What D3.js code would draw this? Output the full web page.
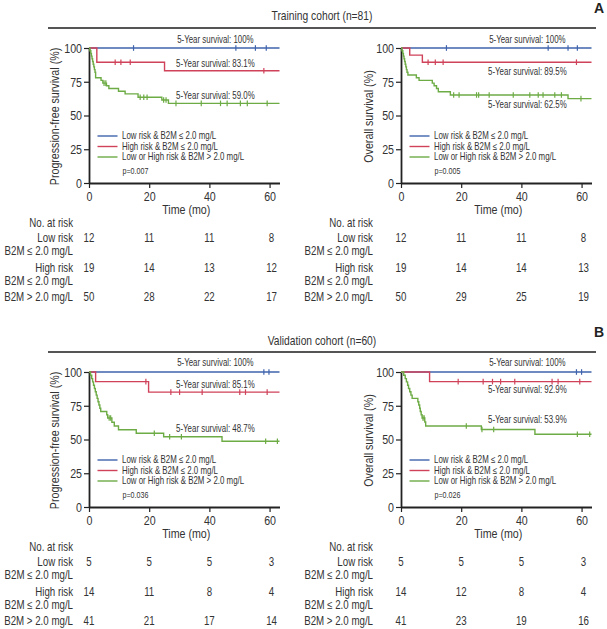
<!DOCTYPE html>
<html>
<head>
<meta charset="utf-8">
<script src="https://cdn.jsdelivr.net/npm/d3@7"></script>
<style>
  html, body { margin: 0; padding: 0; background: #fff; }
  svg { display: block; font-family: "Liberation Sans", Arial, sans-serif; }
</style>
</head>
<body>
<svg id="chart" width="607" height="629"></svg>
<script>
// ---------------- DATA ----------------
const timeTicks = [0, 20, 40, 60];
const survivalTicks = [0, 25, 50, 75, 100];
const timeMax = 63.3;

const cohortTitles = ["Training cohort (n=81)", "Validation cohort (n=60)"];
const cohortLetters = ["A", "B"];
const endpointLabels = ["Progression-free survival (%)", "Overall survival (%)"];
const timeLabel = "Time (mo)";
const groupNames = ["Low risk & B2M \u2264 2.0 mg/L", "High risk & B2M \u2264 2.0 mg/L", "Low or High risk & B2M > 2.0 mg/L"];
const groupColors = ["#3f63ad", "#cf4259", "#6dab45"];
const pValues = ["p=0.007", "p=0.005", "p=0.036", "p=0.026"];
const fiveYearLabels = [
  ["5-Year survival: 100%", "5-Year survival: 83.1%", "5-Year survival: 59.0%"],
  ["5-Year survival: 100%", "5-Year survival: 89.5%", "5-Year survival: 62.5%"],
  ["5-Year survival: 100%", "5-Year survival: 85.1%", "5-Year survival: 48.7%"],
  ["5-Year survival: 100%", "5-Year survival: 92.9%", "5-Year survival: 53.9%"]
];
const fiveYearValues = [[100, 83.1, 59.0], [100, 89.5, 62.5], [100, 85.1, 48.7], [100, 92.9, 53.9]];

// Step drops: [time (mo), survival (%) after drop]
const trainPfsLowSteps = [];
const trainPfsLowCensor = [14.8, 48.8, 55.3, 58.9];
const trainPfsHighSteps = [[2.6, 89.5], [25.1, 83.1]];
const trainPfsHighCensor = [8.7, 10.6, 13.7, 58.1];
const trainPfsB2mSteps = [[0.3, 98], [0.6, 96], [0.8, 94], [1.0, 92], [1.2, 90], [1.4, 88], [1.6, 86], [1.8, 84], [2.0, 82], [2.2, 78], [4.0, 76], [4.6, 74], [5.8, 72], [6.6, 70], [9.8, 68], [12.0, 66], [16.3, 63.5], [24.2, 61.5], [26.4, 59.0]];
const trainPfsB2mCensor = [5.0, 5.6, 17.0, 18.2, 19.3, 24.8, 25.6, 28.9, 37.3, 43.7, 45.9, 50.3, 52.6, 59.2];

const trainOsLowSteps = [];
const trainOsLowCensor = [15.1, 48.9, 55.5, 58.6];
const trainOsHighSteps = [[2.9, 94.7], [7.1, 89.5]];
const trainOsHighCensor = [9.0, 11.4, 14.0, 58.3];
const trainOsB2mSteps = [[0.3, 98], [0.6, 96], [0.8, 94], [1.0, 92], [1.2, 90], [1.4, 88], [1.6, 86], [1.8, 84], [2.0, 82], [2.3, 80], [5.1, 78], [6.0, 76], [10.4, 74], [11.0, 72], [11.8, 70], [12.4, 67.6], [16.4, 65.2], [55.5, 62.5]];
const trainOsB2mCensor = [17.5, 19.3, 25.1, 25.8, 29.3, 37.3, 42.8, 45.6, 47.2, 51.1, 53.3, 59.8];

const validPfsLowSteps = [];
const validPfsLowCensor = [58.1, 59.8];
const validPfsHighSteps = [[2.2, 92.9], [19.8, 85.1]];
const validPfsHighCensor = [18.9, 27.2, 30.1, 37.6, 50.1, 52.0, 59.2];
const validPfsB2mSteps = [[0.5, 97.6], [0.9, 95.1], [1.2, 92.7], [1.5, 90.2], [1.8, 87.8], [2.1, 85.4], [2.4, 82.9], [2.7, 80.5], [3.0, 78.0], [3.3, 75.6], [3.6, 73.2], [3.9, 70.7], [5.9, 68.3], [6.2, 65.9], [7.6, 62.8], [8.4, 60.0], [9.8, 57.2], [15.7, 54.6], [24.8, 52.0], [44.2, 48.7]];
const validPfsB2mCensor = [6.7, 7.2, 21.7, 26.8, 30.7, 58.7, 62.6];

const validOsLowSteps = [];
const validOsLowCensor = [58.3, 60.0];
const validOsHighSteps = [[9.5, 92.9]];
const validOsHighCensor = [19.0, 27.3, 30.4, 33.1, 37.8, 50.2, 52.2, 59.4];
const validOsB2mSteps = [[0.9, 97.6], [1.4, 95.1], [1.8, 92.7], [2.2, 90.2], [2.5, 87.8], [2.9, 85.4], [3.3, 82.9], [3.7, 80.5], [5.6, 78.0], [5.9, 75.6], [6.2, 73.2], [6.4, 70.7], [6.7, 68.3], [7.0, 65.9], [7.9, 63.0], [8.2, 60.0], [26.7, 57.4], [44.5, 53.9]];
const validOsB2mCensor = [7.3, 7.7, 21.7, 26.9, 30.8, 58.6, 62.7];

const riskRowLabels = ["No. at risk", "Low risk", "B2M \u2264 2.0 mg/L", "High risk", "B2M \u2264 2.0 mg/L", "B2M > 2.0 mg/L"];
const trainPfsAtRisk = [[12, 11, 11, 8], [19, 14, 13, 12], [50, 28, 22, 17]];
const trainOsAtRisk = [[12, 11, 11, 8], [19, 14, 14, 13], [50, 29, 25, 19]];
const validPfsAtRisk = [[5, 5, 5, 3], [14, 11, 8, 4], [41, 21, 17, 14]];
const validOsAtRisk = [[5, 5, 5, 3], [14, 12, 8, 4], [41, 23, 19, 16]];

// ---------------- LAYOUT ----------------
const colX = [[89, 279.5], [401, 591.5]];
const rowY = [[183, 48], [507, 372]];
const riskLabelRight = [73, 373];
const yLabelX = [54, 368];
const annotOffsets = [[-8, -7, -7.5], [-8, 9, 5.5], [-9, -8, -13], [-9, 8, -15]];
const condense = 0.79;

const panels = [
  { row: 0, col: 0, curves: [[trainPfsLowSteps, trainPfsLowCensor], [trainPfsHighSteps, trainPfsHighCensor], [trainPfsB2mSteps, trainPfsB2mCensor]], atRisk: trainPfsAtRisk },
  { row: 0, col: 1, curves: [[trainOsLowSteps, trainOsLowCensor], [trainOsHighSteps, trainOsHighCensor], [trainOsB2mSteps, trainOsB2mCensor]], atRisk: trainOsAtRisk },
  { row: 1, col: 0, curves: [[validPfsLowSteps, validPfsLowCensor], [validPfsHighSteps, validPfsHighCensor], [validPfsB2mSteps, validPfsB2mCensor]], atRisk: validPfsAtRisk },
  { row: 1, col: 1, curves: [[validOsLowSteps, validOsLowCensor], [validOsHighSteps, validOsHighCensor], [validOsB2mSteps, validOsB2mCensor]], atRisk: validOsAtRisk }
];

const svg = d3.select("#chart");
const textColor = "#333";

// Cohort headers
const headerY = [[20, 28, 13], [345.5, 352, 337]];
cohortTitles.forEach((t, i) => {
  svg.append("text").attr("x", 322).attr("y", headerY[i][0]).attr("text-anchor", "middle")
    .attr("font-size", 13).attr("fill", textColor).attr("class", "cond").text(t);
  svg.append("line").attr("x1", 48).attr("x2", 596).attr("y1", headerY[i][1]).attr("y2", headerY[i][1])
    .attr("stroke", "#555").attr("stroke-width", 2);
  svg.append("text").attr("x", 599).attr("y", headerY[i][2]).attr("text-anchor", "middle")
    .attr("font-size", 14).attr("font-weight", "bold").attr("fill", "#222").text(cohortLetters[i]);
});

panels.forEach((p, pi) => {
  const x = d3.scaleLinear().domain([0, timeMax]).range(colX[p.col]);
  const y = d3.scaleLinear().domain([0, 100]).range(rowY[p.row]);
  const g = svg.append("g");

  // axes
  const yAxis = g.append("g").attr("transform", `translate(${x(0)},0)`)
    .call(d3.axisLeft(y).tickValues(survivalTicks).tickSize(5).tickPadding(2).tickSizeOuter(0));
  const xAxis = g.append("g").attr("transform", `translate(0,${y(0)})`)
    .call(d3.axisBottom(x).tickValues(timeTicks).tickSize(5).tickPadding(3).tickSizeOuter(0));
  [xAxis, yAxis].forEach(a => {
    a.attr("font-family", null).attr("font-size", null);
    a.select(".domain").attr("stroke", "#222").attr("stroke-width", 1.8);
    a.selectAll(".tick line").attr("stroke", "#222").attr("stroke-width", 1.2);
    a.selectAll(".tick text").attr("font-size", 13.5).attr("fill", textColor).attr("class", "cond");
  });

  // y label
  g.append("text").attr("transform", `translate(${yLabelX[p.col]},${(y(0) + y(100)) / 2 + 1}) rotate(-90)`)
    .attr("text-anchor", "middle").attr("dy", "0.35em").attr("font-size", 13.5).attr("fill", textColor)
    .attr("class", "cond").text(endpointLabels[p.col]);
  // x label
  g.append("text").attr("x", (x(0) + x(timeMax)) / 2 + 2).attr("y", y(0) + 26).attr("dy", "0.35em")
    .attr("text-anchor", "middle").attr("font-size", 13.5).attr("fill", textColor).attr("class", "cond").text(timeLabel);

  // curves
  const line = d3.line().x(d => x(d[0])).y(d => y(d[1])).curve(d3.curveStepAfter);
  p.curves.forEach(([steps, censor], gi) => {
    const pts = [[0, 100]].concat(steps);
    const last = pts[pts.length - 1][1];
    pts.push([timeMax, last]);
    g.append("path").attr("d", line(pts)).attr("fill", "none")
      .attr("stroke", groupColors[gi]).attr("stroke-width", 1.4);
    const survAt = t => { let s = 100; steps.forEach(d => { if (d[0] <= t) s = d[1]; }); return s; };
    g.selectAll(null).data(censor).enter().append("line")
      .attr("x1", d => x(d)).attr("x2", d => x(d))
      .attr("y1", d => y(survAt(d)) - 2.8).attr("y2", d => y(survAt(d)) + 2.8)
      .attr("stroke", groupColors[gi]).attr("stroke-width", 1.2);
  });

  // 5-year annotations
  fiveYearLabels[pi].forEach((t, k) => {
    g.append("text").attr("x", x(42)).attr("y", y(fiveYearValues[pi][k]) + annotOffsets[pi][k])
      .attr("dy", "0.35em").attr("text-anchor", "middle").attr("font-size", 10).attr("fill", textColor)
      .attr("class", "cond").text(t);
  });

  // legend
  const lx = x(0) + 8.5, ly = y(100);
  const legendDy = [88, 98.5, 109];
  groupNames.forEach((n, k) => {
    g.append("line").attr("x1", lx).attr("x2", lx + 20).attr("y1", ly + legendDy[k]).attr("y2", ly + legendDy[k])
      .attr("stroke", groupColors[k]).attr("stroke-width", 1.4);
    g.append("text").attr("x", lx + 24.5).attr("y", ly + legendDy[k]).attr("dy", "0.35em")
      .attr("font-size", 10).attr("fill", textColor).attr("class", "cond").text(n);
  });
  g.append("text").attr("x", lx + 25).attr("y", ly + 123).attr("dy", "0.35em")
    .attr("font-size", 9).attr("fill", textColor).attr("class", "cond").text(pValues[pi]);

  // risk table
  const rowOff = [40, 55, 67.5, 84.5, 97.5, 114];
  riskRowLabels.forEach((lab, k) => {
    g.append("text").attr("x", riskLabelRight[p.col]).attr("y", y(0) + rowOff[k]).attr("dy", "0.35em")
      .attr("text-anchor", "end").attr("font-size", 12.3).attr("fill", textColor).attr("class", "cond").text(lab);
  });
  const numRows = [55, 84.5, 114];
  p.atRisk.forEach((vals, k) => {
    vals.forEach((v, j) => {
      g.append("text").attr("x", x(timeTicks[j]) + (j === 3 ? 2 : 0)).attr("y", y(0) + numRows[k]).attr("dy", "0.35em")
        .attr("text-anchor", "middle").attr("font-size", 12.3).attr("fill", textColor).attr("class", "cond").text(v);
    });
  });
});

// condense text horizontally around its anchor (reference uses a condensed typeface)
svg.selectAll("text.cond").each(function () {
  const el = d3.select(this);
  const existing = el.attr("transform");
  if (existing) {
    el.attr("transform", `${existing} scale(${condense},1)`);
  } else {
    const X = +el.attr("x") || 0;
    el.attr("transform", `translate(${X},0) scale(${condense},1) translate(${-X},0)`);
  }
});
</script>
</body>
</html>
